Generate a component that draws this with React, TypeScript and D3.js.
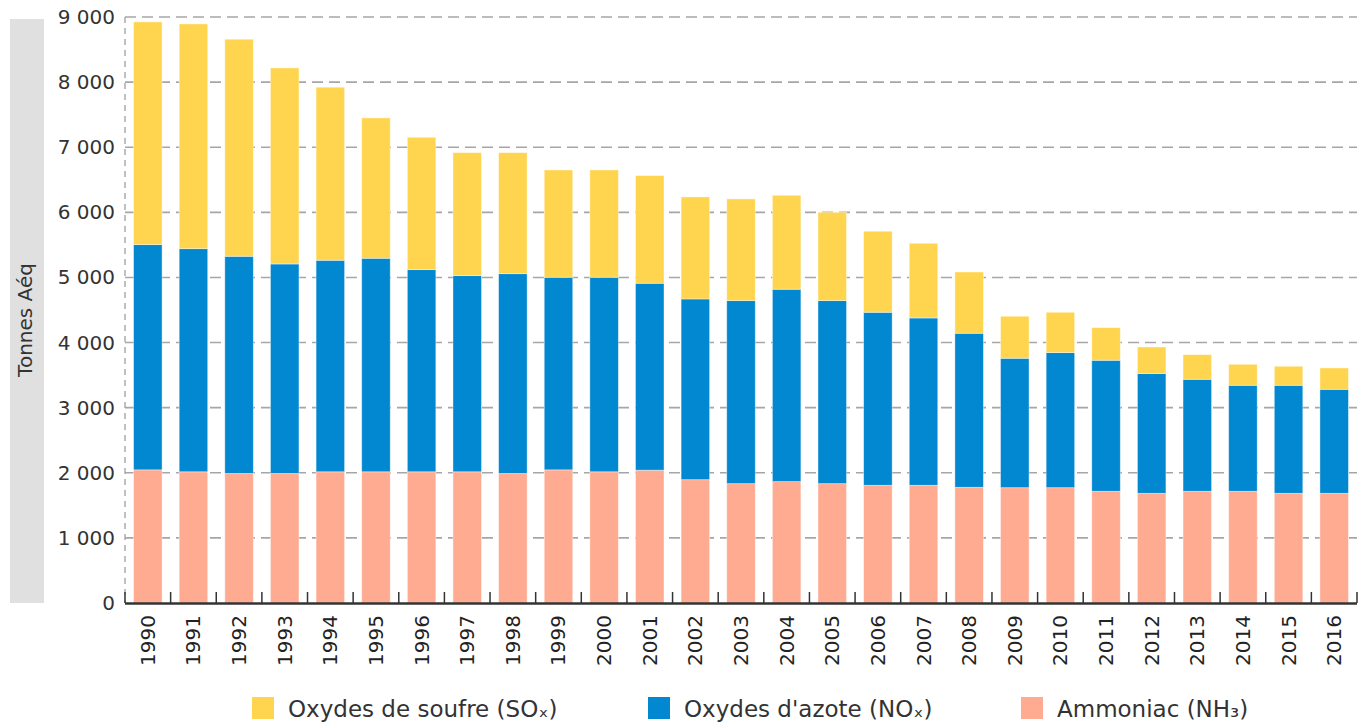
import React from 'react';
import * as d3 from 'd3';

// valeurs (tonnes équivalent acide)
const years = ['1990', '1991', '1992', '1993', '1994', '1995', '1996', '1997', '1998', '1999', '2000', '2001', '2002', '2003',
  '2004', '2005', '2006', '2007', '2008', '2009', '2010', '2011', '2012', '2013', '2014', '2015', '2016'];
const ammoniac = [2045, 2015, 1990, 1990, 2015, 2015, 2015, 2015, 1990, 2045, 2015, 2040, 1894, 1833,
  1864, 1833, 1808, 1808, 1777, 1771, 1771, 1716, 1685, 1716, 1716, 1685, 1685];
const azote = [3459, 3427, 3335, 3217, 3249, 3280, 3105, 3013, 3068, 2958, 2988, 2871, 2776, 2811,
  2955, 2811, 2657, 2570, 2366, 1988, 2075, 2012, 1838, 1720, 1628, 1659, 1597];
const soufre = [3421, 3452, 3334, 3011, 2658, 2155, 2033, 1889, 1859, 1648, 1648, 1653, 1567, 1562,
  1443, 1357, 1245, 1147, 941, 645, 619, 501, 409, 378, 322, 292, 328];
const yTicks = [0, 1000, 2000, 3000, 4000, 5000, 6000, 7000, 8000, 9000];
const seriesNames = ['Ammoniac (NH₃)', "Oxydes d'azote (NOₓ)", 'Oxydes de soufre (SOₓ)'];
const colors = ['#ffab91', '#0288d1', '#ffd54f'];

const W = 1365, H = 727;
const margin = { top: 17, right: 8, bottom: 124, left: 125 };
const font = 'DejaVu Sans, sans-serif';

export default function App() {
  const x = d3.scaleBand<string>().domain(years)
    .range([margin.left, W - margin.right]).paddingInner(0.375).paddingOuter(0.1875);
  const y = d3.scaleLinear().domain([0, 9000]).range([H - margin.bottom, margin.top]);

  const rows = years.map((yr, i) => ({ year: yr, a: ammoniac[i], n: azote[i], s: soufre[i] }));
  const stack = d3.stack<any>().keys(['a', 'n', 's'])(rows);

  const y0 = y(0);
  const step = x.step();
  const tickX = d3.range(years.length + 1).map(i => margin.left + i * step);

  const legend = [
    { name: seriesNames[2], color: colors[2], x: 252 },
    { name: seriesNames[1], color: colors[1], x: 648 },
    { name: seriesNames[0], color: colors[0], x: 1021 },
  ];

  return (
    <div style={{ position: 'absolute', left: 0, top: 0 }}>
      <svg width={W} height={H} style={{ display: 'block', fontFamily: font }}>
        <rect x={10} y={y(9000) + 2} width={34} height={y0 - y(9000) - 2} fill="#e0e0e0" />
        <text transform={`translate(32, 320) rotate(-90)`} textAnchor="middle"
          fontSize={20} fill="#333">Tonnes Aéq</text>

        {yTicks.map(t => (
          <g key={t}>
            {t > 0 && <line x1={margin.left} x2={W - margin.right} y1={y(t)} y2={y(t)}
              stroke="#a6a6a6" strokeWidth={1.6} strokeDasharray="11,6" />}
            <text x={115} y={y(t)} dy="0.35em" textAnchor="end" fontSize={20} fill="#333">
              {d3.format(',')(t).replace(/,/g, ' ')}
            </text>
          </g>
        ))}
        <line x1={margin.left} x2={margin.left} y1={y(9000)} y2={y0}
          stroke="#a6a6a6" strokeWidth={1.4} strokeDasharray="6,5" />

        {stack.map((layer, k) => (
          <g key={k} fill={colors[k]}>
            {layer.map((d, i) => (
              <rect key={i} x={x(years[i])} width={x.bandwidth()} y={y(d[1])} height={y(d[0]) - y(d[1])}
                stroke="#fff" strokeOpacity={0.5} strokeWidth={0.8} />
            ))}
          </g>
        ))}

        <line x1={margin.left} x2={W - margin.right} y1={y0 + 0.5} y2={y0 + 0.5} stroke="#333" strokeWidth={2.4} />
        {tickX.map((tx, i) => (
          <line key={i} x1={tx} x2={tx} y1={y0} y2={y0 - 11} stroke="#333" strokeWidth={1.5} />
        ))}
        {years.map(yr => (
          <text key={yr} transform={`translate(${x(yr)! + x.bandwidth() / 2}, ${y0 + 12}) rotate(-90)`}
            textAnchor="end" dy="0.35em" fontSize={20} fill="#222">{yr}</text>
        ))}

        {legend.map(l => (
          <g key={l.name}>
            <rect x={l.x} y={697} width={22} height={22} fill={l.color} />
            <text x={l.x + 36} y={717} fontSize={23} fill="#333">{l.name}</text>
          </g>
        ))}
      </svg>
    </div>
  );
}
